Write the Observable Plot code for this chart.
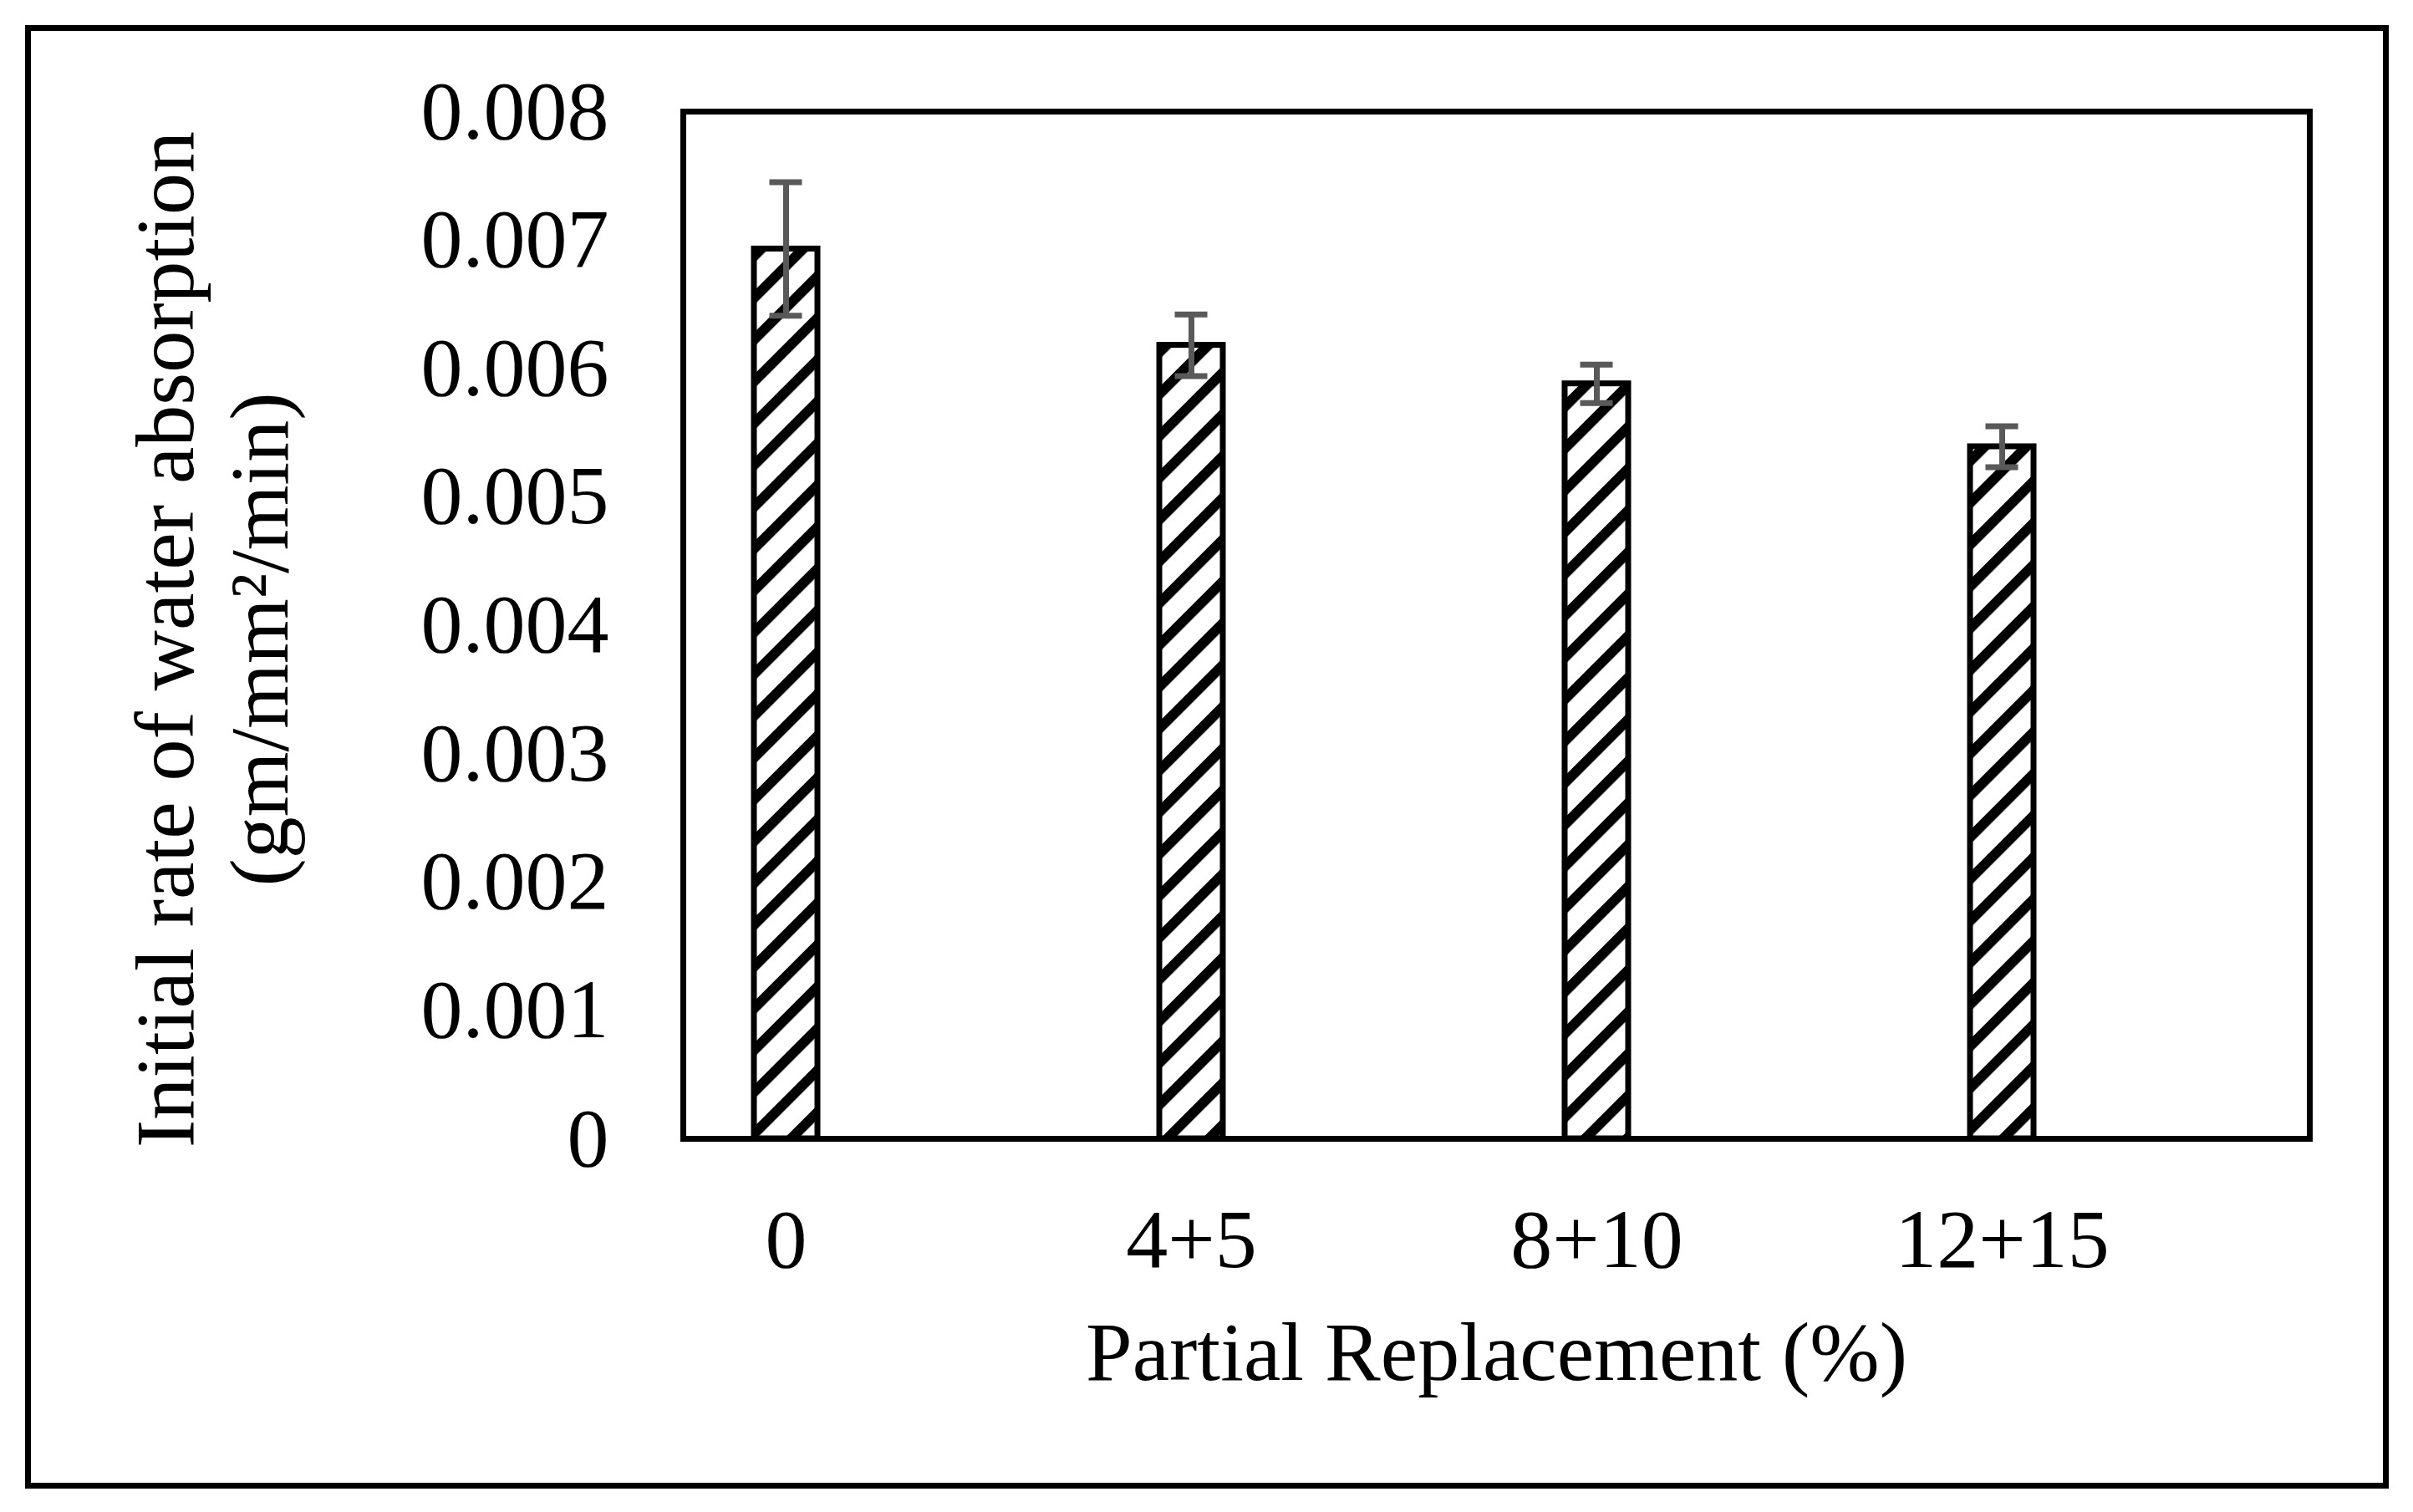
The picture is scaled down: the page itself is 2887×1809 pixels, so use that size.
<!DOCTYPE html>
<html>
<head>
<meta charset="utf-8">
<script src="https://cdn.jsdelivr.net/npm/d3@7"></script>
<script src="https://cdn.jsdelivr.net/npm/@observablehq/plot@0.6"></script>
<style>
  html, body { margin: 0; padding: 0; background: #ffffff; overflow: hidden; }
  #chart svg { display: block; }
</style>
</head>
<body>
<div id="chart"></div>
<script>
// ---- data ----
const categories = ["0", "4+5", "8+10", "12+15"];
const values = [0.00693, 0.00618, 0.00588, 0.00539];
const errors = [0.00052, 0.00024, 0.00015, 0.00016];
const yTicks = [0, 0.001, 0.002, 0.003, 0.004, 0.005, 0.006, 0.007, 0.008];
const yTickLabels = ["0", "0.001", "0.002", "0.003", "0.004", "0.005", "0.006", "0.007", "0.008"];
const xTitle = "Partial Replacement (%)";
const yTitleLine1 = "Initial rate of water absorption";
const yTitleLine2 = "(gm/mm\u00B2/min)";

const data = categories.map((c, i) => ({
  cat: c,
  value: values[i],
  lo: values[i] - errors[i],
  hi: values[i] + errors[i]
}));

const W = 2887, H = 1809;
const font = "'Liberation Serif', 'Times New Roman', Times, serif";
const errColor = "#595959";

const chart = Plot.plot({
  width: W,
  height: H,
  marginLeft: 817,
  marginRight: 124,
  marginTop: 133,
  marginBottom: 447,
  style: { fontFamily: font, fontSize: "100px", color: "black", background: "white" },
  x: { type: "band", domain: categories, paddingInner: 0.8436, paddingOuter: 0.4239, align: 0.205 },
  y: { domain: [0, 0.008] },
  marks: [
    // outer chart border
    Plot.frame({ stroke: "black", strokeWidth: 7, insetLeft: -784, insetRight: -91, insetTop: -100, insetBottom: -415 }),
    // plot area border
    Plot.frame({ stroke: "black", strokeWidth: 7 }),
    Plot.axisY({
      ticks: yTicks,
      tickFormat: d => yTickLabels[yTicks.indexOf(d)],
      tickSize: 0,
      tickPadding: 89,
      fontSize: 100,
      label: null
    }),
    Plot.axisX({ tickSize: 0, tickPadding: 82, fontSize: 100, label: null }),
    Plot.barY(data, { x: "cat", y: "value", fill: "url(#hatch)", stroke: "black", strokeWidth: 7 }),
    Plot.ruleX(data, { x: "cat", y1: "lo", y2: "hi", stroke: errColor, strokeWidth: 7 }),
    Plot.tickY(data, { x: "cat", y: "lo", stroke: errColor, strokeWidth: 7, insetLeft: 18.5, insetRight: 18.5 }),
    Plot.tickY(data, { x: "cat", y: "hi", stroke: errColor, strokeWidth: 7, insetLeft: 18.5, insetRight: 18.5 }),
    Plot.text([xTitle], { text: d => d, frameAnchor: "bottom", dy: 256, lineAnchor: "middle", textAnchor: "middle", fontSize: 100, fill: "black" }),
    Plot.text([yTitleLine1], { text: d => d, frameAnchor: "left", rotate: -90, dx: -619, dy: 17, lineAnchor: "middle", textAnchor: "middle", fontSize: 100, fill: "black" }),
    Plot.text([yTitleLine2], { text: d => d, frameAnchor: "left", rotate: -90, dx: -506, dy: 17, lineAnchor: "middle", textAnchor: "middle", fontSize: 100, fill: "black" })
  ]
});

// hatch pattern for the bars (wide upward diagonal)
const svgSel = d3.select(chart.tagName.toLowerCase() === "svg" ? chart : chart.querySelector("svg"));
const defs = svgSel.insert("defs", ":first-child");
const pat = defs.append("pattern")
  .attr("id", "hatch")
  .attr("patternUnits", "userSpaceOnUse")
  .attr("width", 35.36)
  .attr("height", 35.36)
  .attr("patternTransform", "rotate(45)");
pat.append("rect").attr("width", 35.36).attr("height", 35.36).attr("fill", "white");
pat.append("rect").attr("width", 12).attr("height", 35.36).attr("fill", "black");

document.getElementById("chart").appendChild(chart);
</script>
</body>
</html>
